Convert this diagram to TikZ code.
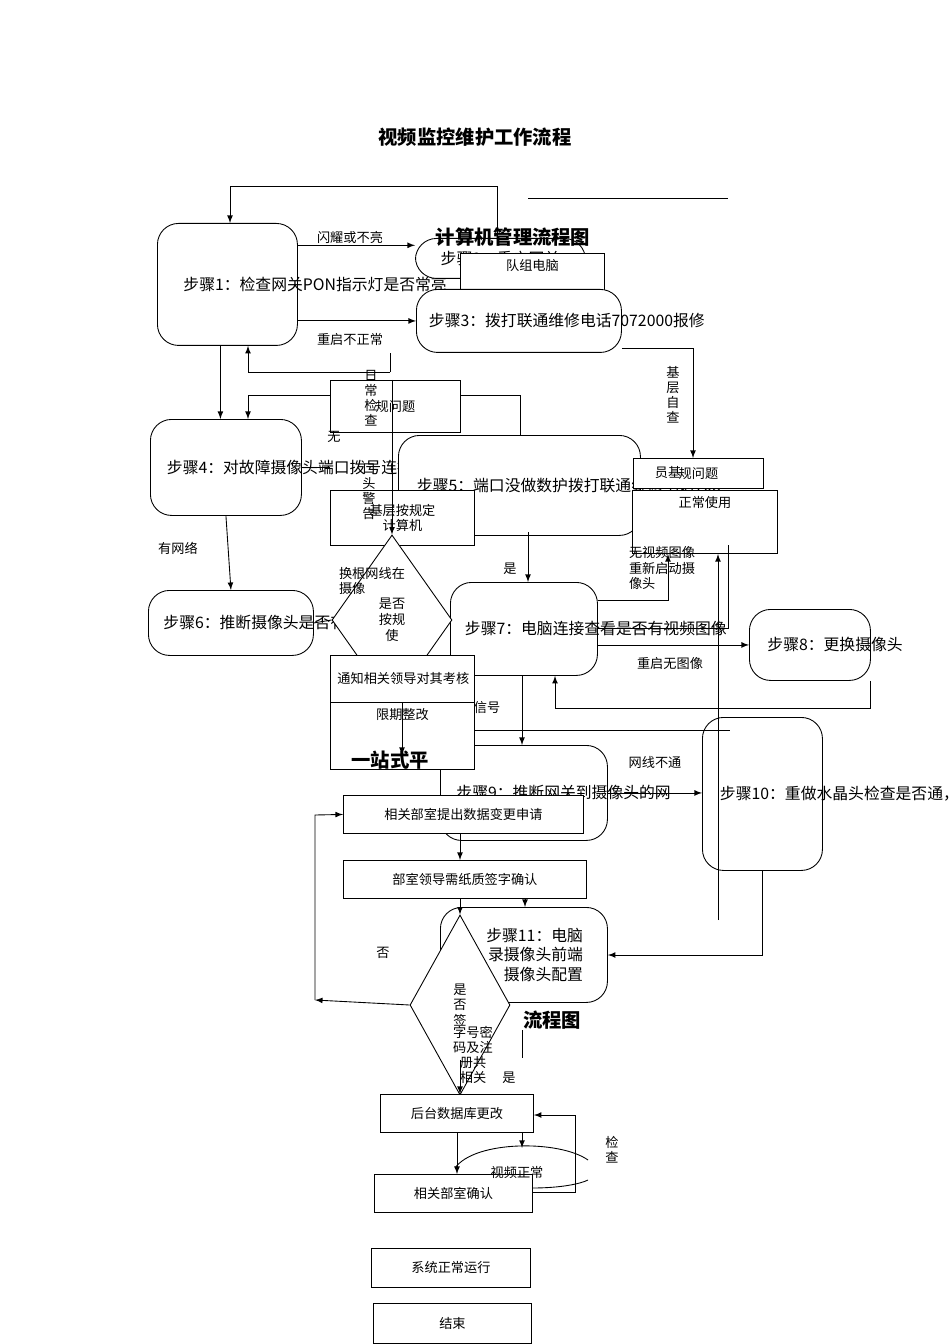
\documentclass[tikz,border=0pt]{standalone}
\usepackage{fontspec}
\setmainfont{Noto Sans CJK SC}
\usetikzlibrary{arrows}
\usetikzlibrary{shapes.geometric}
\usetikzlibrary{positioning}
\tikzset{stp/.style={draw,rounded corners=12pt,fill=white,align=left,font=\fontsize{9}{11}\selectfont,inner sep=3pt,anchor=north west}}
\tikzset{box/.style={draw,fill=white,align=center,font=\fontsize{7.5}{9}\selectfont,anchor=north west}}
\tikzset{lab/.style={font=\fontsize{7.5}{9}\selectfont,inner sep=1pt}}
\tikzset{vlab/.style={font=\fontsize{7.5}{8.6}\selectfont,align=center,inner sep=0pt}}
\tikzset{big/.style={font=\bfseries\fontsize{11}{13}\selectfont}}
\tikzset{dia/.style={diamond,draw,fill=white,aspect=0.65,inner sep=0pt,align=center,font=\fontsize{7.5}{9}\selectfont}}
\begin{document}
\begin{tikzpicture}[x=0.02cm,y=-0.02cm,>=latex,line width=0.5pt]
\useasboundingbox (0,0) rectangle (950,1344);

\node[big] (title) at (475,137) {视频监控维护工作流程};
\coordinate (t1) at (528,198); \coordinate (t2) at (728,198);
\draw (t1) -- (t2);

% camera flow
\node[stp,minimum width=140*0.02cm,minimum height=122*0.02cm,text width=88*0.02cm] (s1) at (157,223) {步骤1：检查网关PON指示灯是否常亮};
\node[stp,minimum width=170*0.02cm,minimum height=40*0.02cm] (s2) at (415,238) {步骤2：重启网关};
\node[big] (h1) at (513,237) {计算机管理流程图};
\node[box,minimum width=144*0.02cm,minimum height=54*0.02cm,anchor=north west] (pc) at (460,253) {队组电脑\\[14pt]};
\node[stp,minimum width=205*0.02cm,minimum height=63*0.02cm,text width=180*0.02cm] (s3) at (416,289) {步骤3：拨打联通维修电话7072000报修};
\node[stp,minimum width=151*0.02cm,minimum height=96*0.02cm,text width=118*0.02cm] (s4) at (150,419) {步骤4：对故障摄像头端口拨号连接};
\node[stp,minimum width=242*0.02cm,minimum height=100*0.02cm,text width=205*0.02cm] (s5) at (398,435) {步骤5：端口没做数护拨打联通维修电话708};
\node[stp,minimum width=165*0.02cm,minimum height=65*0.02cm,text width=135*0.02cm] (s6) at (148,590) {步骤6：推断摄像头是否有故障};
\node[stp,minimum width=147*0.02cm,minimum height=93*0.02cm,text width=118*0.02cm] (s7) at (450,582) {步骤7：电脑连接查看是否有视频图像};
\node[stp,minimum width=121*0.02cm,minimum height=71*0.02cm,text width=85*0.02cm] (s8) at (749,609) {步骤8：更换摄像头};
\node[stp,minimum width=167*0.02cm,minimum height=95*0.02cm,text width=135*0.02cm] (s9) at (440,745) {步骤9：推断网关到摄像头的网};
\node[stp,minimum width=120*0.02cm,minimum height=153*0.02cm,text width=85*0.02cm] (s10) at (702,717) {步骤10：重做水晶头检查是否通，不通更换网线};
\node[stp,minimum width=167*0.02cm,minimum height=95*0.02cm,text width=118*0.02cm,align=right] (s11) at (440,907) {步骤11：电脑\\录摄像头前端\\摄像头配置};

% computer management overlay
\node[box,minimum width=130*0.02cm,minimum height=52*0.02cm,text width=100*0.02cm] (rule) at (330,380) {规问题\\[10pt]};
\node[box,minimum width=144*0.02cm,minimum height=55*0.02cm,text width=110*0.02cm] (jc) at (330,490) {基层按规定\\计算机};
\node[box,minimum width=145*0.02cm,minimum height=55*0.02cm] (ok) at (632,490) {正常使用\\[14pt]};
\node[box,minimum width=130*0.02cm,minimum height=30*0.02cm] (rule2) at (633,458) {规问题};
\node[dia,minimum width=120*0.02cm,minimum height=170*0.02cm] (q1) at (392,620) {是否\\按规\\使};
\node[box,minimum width=144*0.02cm,minimum height=47*0.02cm,text width=130*0.02cm,align=left] (notice) at (330,655) {通知相关领导对其考核};
\node[box,minimum width=144*0.02cm,minimum height=53*0.02cm] (fix) at (330,702) {限期整改\\[16pt]};
\node[vlab] (rc) at (371,398) {日\\常\\检\\查};
\node[vlab] (kt) at (369,492) {口\\头\\警\\告};
\node[vlab] (jz) at (673,395) {基\\层\\自\\查};

% data change overlay
\node[big] (h2) at (390,760) {一站式平};
\node[box,minimum width=240*0.02cm,minimum height=38*0.02cm] (apply) at (343,795) {相关部室提出数据变更申请};
\node[box,minimum width=243*0.02cm,minimum height=38*0.02cm] (sign) at (343,860) {部室领导需纸质签字确认};
\node[big] (h3) at (440,1020) {网};
\node[big] (h4) at (552,1020) {流程图};
\node[dia,minimum width=100*0.02cm,minimum height=180*0.02cm] (q2) at (460,1005) {是\\否\\签};
\node[vlab] (q2t) at (473,1055) {字号密\\码及注\\册共\\相关};
\node[box,minimum width=153*0.02cm,minimum height=38*0.02cm] (db) at (380,1094) {后台数据库更改};
\node[box,minimum width=158*0.02cm,minimum height=38*0.02cm] (conf) at (374,1174) {相关部室确认};
\node[box,minimum width=159*0.02cm,minimum height=39*0.02cm] (run) at (371,1248) {系统正常运行};
\node[box,minimum width=158*0.02cm,minimum height=40*0.02cm] (end) at (373,1303) {结束};

% labels
\node[lab] (l1) at (350,237) {闪耀或不亮};
\node[lab] (l2) at (350,340) {重启不正常};
\node[lab] (l3) at (178,548) {有网络};
\node[lab] (l4) at (510,569) {是};
\node[lab] (l5) at (670,663) {重启无图像};
\node[lab] (l6) at (655,762) {网线不通};
\node[lab] (l7) at (383,953) {否};
\node[lab] (l8) at (509,1078) {是};
\node[lab] (l9) at (517,1172) {视频正常};
\node[vlab] (l10) at (612,1150) {检\\查};
\node[lab,align=left] (l11) at (662,568) {无视频图像\\重新启动摄\\像头};
\node[lab,align=left] (l12) at (372,581) {换根网线在\\摄像};
\node[lab] (l13) at (487,708) {信号};
\node[lab] (l14) at (668,473) {员基};
\node[lab] (l15) at (334,437) {无};

% connectors
\coordinate (a1) at (230,186); \coordinate (a2) at (497,186); \coordinate (a3) at (497,240);
\draw[->] (a3) -- (a2) -- (a1) -- (s1.north -| a1);
\draw[->] (s1.east |- l1.south) -- (s2.west |- l1.south);
\draw[->] (s1.east |- s3.west) -- (s3.west);
\draw[->] ([xshift=-4pt]s1.south) -- ([xshift=-4pt]s4.north -| s1.south);
\coordinate (b1) at (248,372); \coordinate (b2) at (390,372);
\draw[->] (b2) -- (b1) -- (s1.south -| b1);
\draw (b2) -- (s3.south -| b2);
\coordinate (c1) at (248,395); \coordinate (c2) at (520,395);
\draw[->] (c1 -| rule.west) -- (c1) -- ([yshift=-0pt]s4.north -| c1);
\draw (rule.east |- c2) -- (c2) -- (c2 |- s5.north);
\draw (s4.east) -- (s4.east -| rule.west);
\draw[->] (s4.south) -- (s6.north);
\draw (s6.east) -- (q1.west);
\coordinate (d1) at (693,348);
\draw[->] (s3.east |- d1) -- (d1) -- (d1 |- rule2.north);
\draw[->] (392,380) -- (q1.north);
\draw[->] (528,532) -- (s7.north -| 528,0);
\draw[->] (s7.east |- s8.west) -- (s8.west);
\coordinate (e1) at (870,708); \coordinate (e2) at (555,708);
\draw[->] (s8.south -| e1) -- (e1) -- (e2) -- (s7.south -| e2);
\coordinate (f1) at (668,600);
\draw[->] (s7.east |- f1) -- (f1) -- (f1 |- ok.south);
\coordinate (f2) at (728,545); \coordinate (f3) at (728,628);
\draw (s7.east |- f3) -- (f3) -- (f2);
\coordinate (g1) at (718,920);
\draw[->] (g1) -- (g1 |- ok.south);
\draw[->] (s7.south -| 522,0) -- (s9.north -| 522,0);
\draw[->] (s9.east) -- (s9.east -| s10.west);
\coordinate (h5) at (762,955);
\draw[->] (s10.south -| h5) -- (h5) -- (s11.east |- h5);
\draw[->] (402,702) -- (402,755);
\draw (fix.east |- 0,730) -- (730,730);
\draw[->] (apply.south -| q2.north) -- (sign.north -| q2.north);
\draw[->] (sign.south -| q2.north) -- (q2.north);
\draw[->] (525,898) -- (525,907);
\coordinate (k1) at (315,1000); \coordinate (k2) at (315,815);
\draw[->] (q2.west) -- (k1);
\draw[->] (k1) -- (k2) -- (apply.west);
\draw[->] (460,1060) -- (db.north -| 460,0);
\draw (522,1030) -- (522,1058);
\draw[->] (db.south -| 457,0) -- (conf.north -| 457,0);
\draw[->] (db.south -| 522,0) -- ++(0,15);
\coordinate (m1) at (575,1115); \coordinate (m2) at (575,1192);
\draw[->] (conf.east |- m2) -- (m2) -- (m1) -- (db.east |- m1);
\draw (455,1168) .. controls (475,1140) and (560,1140) .. (588,1160);
\draw (532,1188) .. controls (560,1188) and (580,1184) .. (588,1180);
\end{tikzpicture}
\end{document}
